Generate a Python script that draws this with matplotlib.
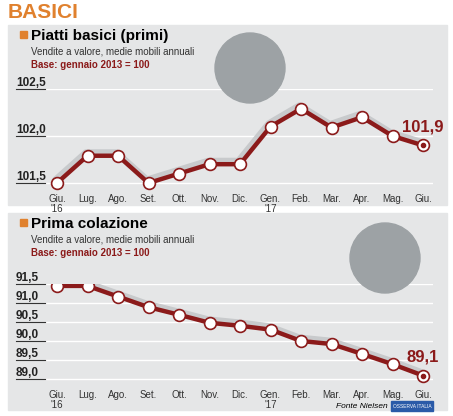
import matplotlib
matplotlib.use("Agg")
import matplotlib.pyplot as plt
from matplotlib.patches import Rectangle, Ellipse
import matplotlib.transforms as mtrans

plt.rcParams['font.family'] = ['Liberation Sans', 'DejaVu Sans']

months = ["Giu.\n'16", "Lug.", "Ago.", "Set.", "Ott.", "Nov.", "Dic.", "Gen.\n'17",
          "Feb.", "Mar.", "Apr.", "Mag.", "Giu."]
primi = [101.5, 101.79, 101.79, 101.5, 101.6, 101.7, 101.7, 102.1, 102.29, 102.09, 102.2, 102.0, 101.9]
primi_ticks = [101.5, 102.0, 102.5]
colaz = [91.45, 91.45, 91.17, 90.89, 90.69, 90.48, 90.4, 90.3, 90.0, 89.92, 89.66, 89.39, 89.09]
colaz_ticks = [89.0, 89.5, 90.0, 90.5, 91.0, 91.5]

W, H = 453, 416
fig = plt.figure(figsize=(W/100, H/100), dpi=100)
fig.patch.set_facecolor('white')
RED = '#8b1a1a'
ORANGE = '#e0812e'

def px(x, y):
    return x / W, 1 - y / H

fig.text(*px(8, 3), "BASICI", color=ORANGE, fontsize=15, fontweight='bold', va='top')

def panel(top, bottom, title, vals, ticks, ylim, ytop_px, ybot_px, label, circ):
    fig.add_artist(Rectangle(px(8, bottom), (447-8)/W, (bottom-top)/H,
                             transform=fig.transFigure, color='#e5e6e7', zorder=0))
    fig.add_artist(Ellipse(px(*circ[:2]), 2*circ[2]/W, 2*circ[2]/H, transform=fig.transFigure,
                           color='#9da2a5', zorder=0.5))
    fig.add_artist(Rectangle(px(20, top+13), 7/W, 7/H, transform=fig.transFigure,
                             color=ORANGE, zorder=1))
    fig.text(*px(31, top+4), title, fontsize=11, fontweight='bold', va='top')
    fig.text(*px(31, top+22), "Vendite a valore, medie mobili annuali", fontsize=7, va='top', color='#333333')
    fig.text(*px(31, top+35), "Base: gennaio 2013 = 100", fontsize=7, fontweight='bold', va='top', color=RED)
    x0, x1 = 16, 433
    xl = -41*12/366
    xr = 12 + 10*12/366
    scale = (ybot_px - ytop_px) / (ylim[1] - ylim[0])
    lo = ylim[0] - 10/scale
    hi = ylim[1]
    bottom_px = ybot_px + 10
    ax = fig.add_axes([x0/W, 1 - bottom_px/H, (x1-x0)/W, (bottom_px-ytop_px)/H])
    ax.set_xlim(xl, xr)
    ax.set_ylim(lo, hi)
    ax.patch.set_alpha(0)
    ax.axis('off')
    for t in ticks:
        ax.axhline(t, xmin=(45-x0)/(x1-x0), color='white', lw=1, zorder=1)
        ax.plot([xl, xl + 29*12/366], [t, t], color='#333333', lw=0.8, clip_on=False)
        ax.text(xl, t, f"{t:.1f}".replace('.', ','), fontsize=8.5, fontweight='bold',
                va='bottom', ha='left', color='#222222')
    xs = list(range(len(vals)))
    sh = mtrans.offset_copy(ax.transData, fig=fig, x=-1.5, y=3, units='dots')
    ax.plot(xs, vals, color='#c8cacc', lw=5, transform=sh, zorder=2, solid_capstyle='round')
    ax.plot(xs, vals, color=RED, lw=3.2, zorder=3, marker='o', markersize=8.5,
            markerfacecolor='white', markeredgecolor=RED, markeredgewidth=1.2)
    ax.plot(xs[-1], vals[-1], 'o', color=RED, markersize=3, zorder=4)
    ax.annotate(label, (xs[-1], vals[-1]), xytext=(0, 8), textcoords='offset points',
                ha='center', va='bottom', fontsize=12, fontweight='bold', color=RED)
    for i, m in enumerate(months):
        ax.text(i, lo, m, ha='center', va='top', fontsize=7, color='#333333', linespacing=1.0,
                transform=mtrans.offset_copy(ax.transData, fig=fig, y=-1, units='dots'))
    return ax

panel(25, 205, "Piatti basici (primi)", primi, primi_ticks, (101.5, 102.5), 89, 183, "101,9",
      (250, 68, 35))
panel(213, 410, "Prima colazione", colaz, colaz_ticks, (89.0, 91.5), 284, 379, "89,1",
      (385, 258, 35))
fig.text(*px(388, 406), "Fonte Nielsen", fontsize=6, style='italic', ha='right', va='center')
fig.add_artist(Rectangle(px(391, 411), 42/W, 10/H, transform=fig.transFigure, color='#2a5aa8'))
fig.text(*px(412, 406), "OSSERVA ITALIA", fontsize=3.5, color='white', ha='center', va='center')

fig.savefig("out.png", dpi=100)
